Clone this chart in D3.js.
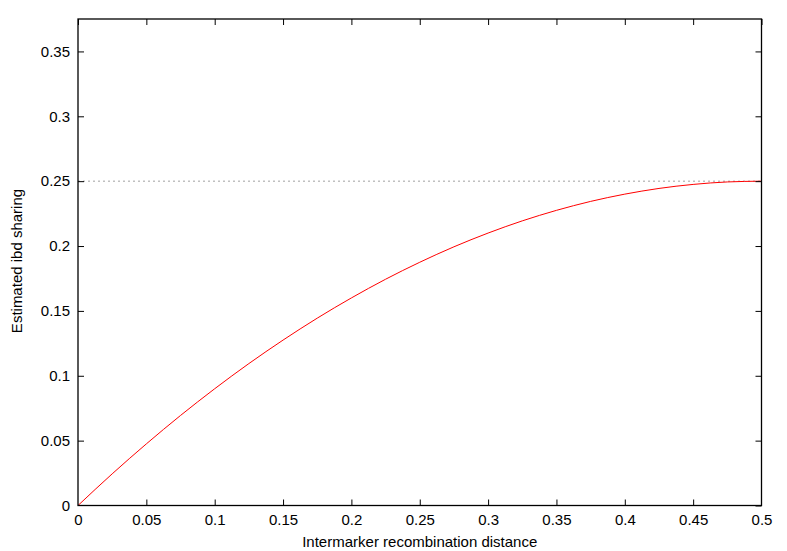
<!DOCTYPE html>
<html><head><meta charset="utf-8">
<script src="https://cdn.jsdelivr.net/npm/d3@7"></script>
<style>body{margin:0;background:#fff}text{font-family:"Liberation Sans",Arial,Helvetica,sans-serif}</style>
</head><body>
<svg id="c" width="787" height="551"></svg>
<script>
const xValues = [0,0.025,0.05,0.075,0.1,0.125,0.15,0.175,0.2,0.225,0.25,0.275,0.3,0.325,0.35,0.375,0.4,0.425,0.45,0.475,0.5];
const yValues = [0,0.0244,0.0475,0.0694,0.09,0.1094,0.1275,0.1444,0.16,0.1744,0.1875,0.1994,0.21,0.2194,0.2275,0.2344,0.24,0.2444,0.2475,0.2494,0.25];
const xTicks = [0,0.05,0.1,0.15,0.2,0.25,0.3,0.35,0.4,0.45,0.5];
const xTickLabels = ["0","0.05","0.1","0.15","0.2","0.25","0.3","0.35","0.4","0.45","0.5"];
const yTicks = [0,0.05,0.1,0.15,0.2,0.25,0.3,0.35];
const yTickLabels = ["0","0.05","0.1","0.15","0.2","0.25","0.3","0.35"];
const refLine = [0.25];
const xTitle = "Intermarker recombination distance";
const yTitle = "Estimated ibd sharing";

const L=78, R=761.5, T=19, B=505.5;
const svg=d3.select("#c");
const x=d3.scaleLinear().domain([0,0.5]).range([L,R]);
const y=d3.scaleLinear().domain([0,0.375]).range([B,T]);

svg.selectAll(".ref").data(refLine).join("line")
  .attr("x1",L).attr("x2",R).attr("y1",d=>y(d)).attr("y2",d=>y(d))
  .attr("stroke","#a0a0a0").attr("stroke-width",1).attr("stroke-dasharray","2,3");

const pts=xValues.map((v,i)=>[v,yValues[i]]);
svg.append("path").datum(pts)
  .attr("d",d3.line().x(d=>x(d[0])).y(d=>y(d[1])).curve(d3.curveMonotoneX))
  .attr("fill","none").attr("stroke","#ff0000").attr("stroke-width",1);

const fmtX=(d,i)=>xTickLabels[i];
const fmtY=(d,i)=>yTickLabels[i];
const ax=svg.append("g").attr("transform",`translate(0,${B})`)
  .call(d3.axisBottom(x).tickValues(xTicks).tickFormat(fmtX).tickSizeInner(-6).tickSizeOuter(0).tickPadding(9));
const ay=svg.append("g").attr("transform",`translate(${L},0)`)
  .call(d3.axisLeft(y).tickValues(yTicks).tickFormat(fmtY).tickSizeInner(-6).tickSizeOuter(0).tickPadding(8));
const at=svg.append("g").attr("transform",`translate(0,${T})`)
  .call(d3.axisTop(x).tickValues(xTicks).tickFormat("").tickSizeInner(-6).tickSizeOuter(0));
const ar=svg.append("g").attr("transform",`translate(${R},0)`)
  .call(d3.axisRight(y).tickValues(yTicks).tickFormat("").tickSizeInner(-6).tickSizeOuter(0));
[ax,ay,at,ar].forEach(g=>{g.select(".domain").remove();g.selectAll("text").attr("font-size",15).attr("fill","#000").attr("font-family","Liberation Sans, Arial, sans-serif");g.selectAll(".tick line").attr("stroke","#000");});
ay.selectAll(".tick").filter((d,i)=>i===0).select("line").remove();
ax.selectAll(".tick").filter((d,i)=>i===0||i===xTicks.length-1).select("line").remove();

svg.append("rect").attr("x",L).attr("y",T).attr("width",R-L).attr("height",B-T)
  .attr("fill","none").attr("stroke","#000").attr("stroke-width",1.3);

svg.append("text").attr("x",(L+R)/2).attr("y",547).attr("text-anchor","middle")
  .attr("font-size",15).text(xTitle);
svg.append("text").attr("transform",`translate(22,261) rotate(-90)`).attr("text-anchor","middle")
  .attr("font-size",15).text(yTitle);
</script>
</body></html>
